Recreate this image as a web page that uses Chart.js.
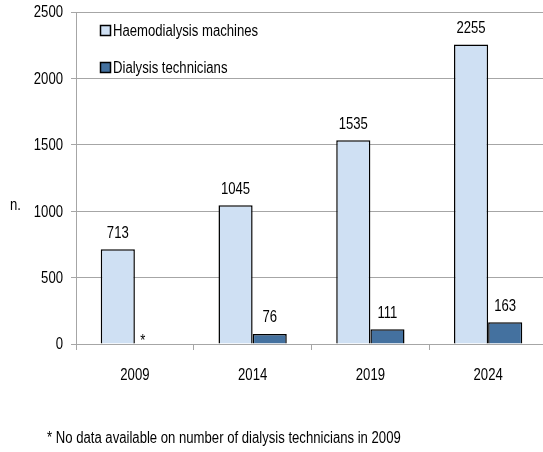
<!DOCTYPE html>
<html>
<head>
<meta charset="utf-8">
<script src="https://cdn.jsdelivr.net/npm/chart.js@4.4.0/dist/chart.umd.min.js"></script>
<style>
  html, body { margin: 0; padding: 0; background: #fff; overflow: hidden; }
  #wrap { position: relative; width: 548px; height: 452px; }
</style>
</head>
<body>
<div id="wrap">
  <canvas id="chart" width="548" height="452"></canvas>
</div>
<script>
const years = ['2009', '2014', '2019', '2024'];
const machines = [713, 1045, 1535, 2255];
const technicians = [null, 76, 111, 163];
const yTicks = [0, 500, 1000, 1500, 2000, 2500];
const yTitle = 'n.';
const footnote = '* No data available on number of dialysis technicians in 2009';

const FONT = "16px 'Liberation Sans', Arial, sans-serif";
const SQUEEZE = 0.82; // the original uses a narrow font

// narrow text: draw with a horizontal squeeze
function drawText(ctx, text, x, y, align) {
  ctx.save();
  ctx.font = FONT;
  ctx.fillStyle = '#000';
  ctx.textBaseline = 'middle';
  const w = ctx.measureText(text).width * SQUEEZE;
  let left = x;
  if (align === 'center') left = x - w / 2;
  if (align === 'right') left = x - w;
  ctx.translate(left, y);
  ctx.scale(SQUEEZE, 1);
  ctx.textAlign = 'left';
  ctx.fillText(text, 0, 0);
  ctx.restore();
}

// axis labels, value labels, legend and footnote
const textLayer = {
  id: 'textLayer',
  afterDraw(chart) {
    const ctx = chart.ctx;
    const x = chart.scales.x;
    const y = chart.scales.y;

    yTicks.forEach(v => drawText(ctx, String(v), 63, y.getPixelForValue(v) + 1, 'right'));
    years.forEach((lab, i) => drawText(ctx, lab, x.getPixelForValue(i), 376, 'center'));
    drawText(ctx, yTitle, 10, 206, 'left');
    drawText(ctx, footnote, 47, 439, 'left');

    chart.data.datasets.forEach((ds, i) => {
      const meta = chart.getDatasetMeta(i);
      meta.data.forEach((bar, j) => {
        const v = ds.data[j];
        if (v == null) {
          const other = chart.getDatasetMeta(0).data[j];
          drawText(ctx, '*', other.x + other.width / 2 + 8, y.getPixelForValue(0) - 2, 'center');
          return;
        }
        drawText(ctx, String(v), bar.x, bar.y - 16, 'center');
      });
    });

    const rows = [31, 68];
    chart.data.datasets.forEach((ds, i) => {
      const ry = rows[i];
      ctx.save();
      ctx.fillStyle = ds.backgroundColor;
      ctx.fillRect(100.5, ry - 5.5, 10, 10);
      ctx.lineWidth = 1.5;
      ctx.strokeStyle = '#000';
      ctx.strokeRect(100.5, ry - 5.5, 10, 10);
      ctx.restore();
      drawText(ctx, ds.label, 113, ry + 1, 'left');
    });
  }
};

new Chart(document.getElementById('chart'), {
  type: 'bar',
  data: {
    labels: years,
    datasets: [
      {
        label: 'Haemodialysis machines',
        data: machines,
        backgroundColor: '#cfe0f3',
        borderColor: '#000',
        borderWidth: 1.5,
        borderSkipped: 'bottom'
      },
      {
        label: 'Dialysis technicians',
        data: technicians,
        backgroundColor: '#44719f',
        borderColor: '#000',
        borderWidth: 1.5,
        borderSkipped: 'bottom'
      }
    ]
  },
  options: {
    responsive: false,
    animation: false,
    layout: { padding: { top: 12, right: 1, left: 0, bottom: 0 } },
    plugins: {
      legend: { display: false },
      tooltip: { enabled: false }
    },
    datasets: {
      bar: { categoryPercentage: 0.58, barPercentage: 1.0 }
    },
    scales: {
      x: {
        offset: true,
        grid: {
          offset: true,
          drawOnChartArea: false,
          drawTicks: true,
          tickLength: 6,
          color: '#a6a6a6'
        },
        border: { color: '#a6a6a6', width: 1 },
        ticks: { display: false },
        afterFit(scale) { scale.height = 108; }
      },
      y: {
        min: 0,
        max: 2500,
        afterBuildTicks(scale) { scale.ticks = yTicks.map(v => ({ value: v })); },
        grid: {
          color: '#a6a6a6',
          tickLength: 5
        },
        border: { color: '#a6a6a6', width: 1 },
        ticks: { display: false },
        afterFit(scale) { scale.width = 76; }
      }
    }
  },
  plugins: [textLayer]
});
</script>
</body>
</html>
